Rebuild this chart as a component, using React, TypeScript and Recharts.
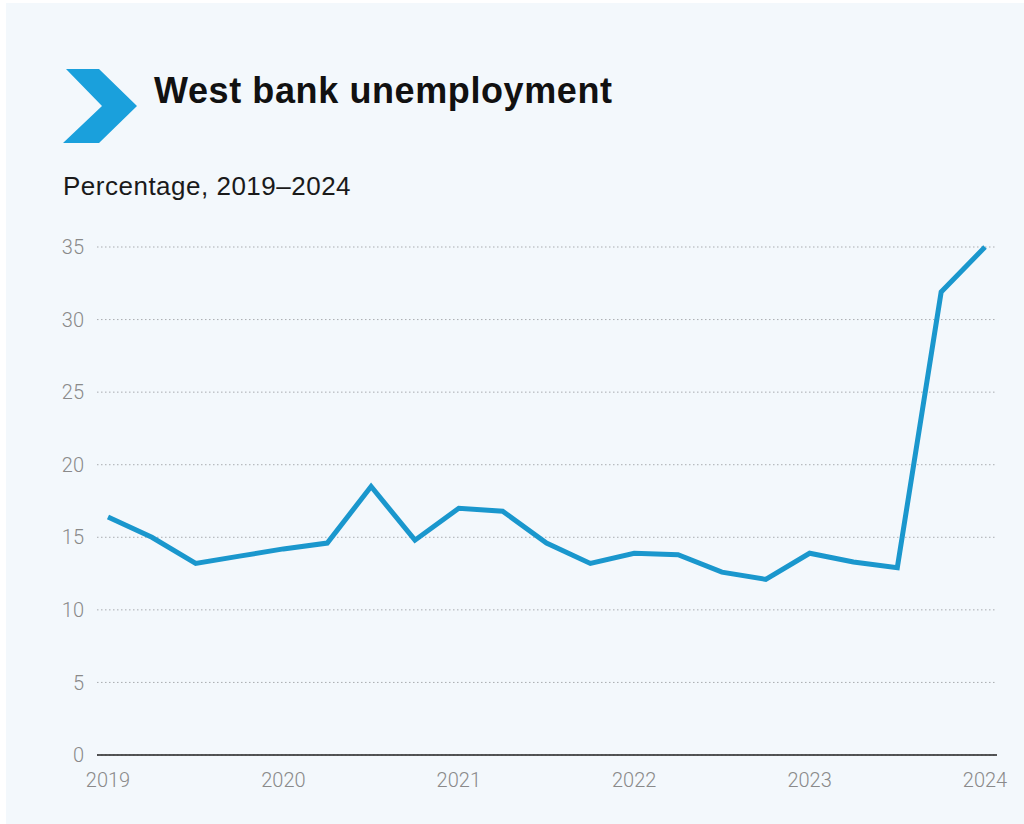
import React from "react";
import { LineChart, Line, XAxis, YAxis, CartesianGrid } from "recharts";

const quarters = [
  "2019 Q1", "2019 Q2", "2019 Q3", "2019 Q4",
  "2020 Q1", "2020 Q2", "2020 Q3", "2020 Q4",
  "2021 Q1", "2021 Q2", "2021 Q3", "2021 Q4",
  "2022 Q1", "2022 Q2", "2022 Q3", "2022 Q4",
  "2023 Q1", "2023 Q2", "2023 Q3", "2023 Q4",
  "2024 Q1",
];
const unemployment = [
  16.4, 15.0, 13.2, 13.7, 14.2, 14.6, 18.5, 14.8, 17.0, 16.8, 14.6,
  13.2, 13.9, 13.8, 12.6, 12.1, 13.9, 13.3, 12.9, 31.9, 35.0,
];
const xTicks = [2019, 2020, 2021, 2022, 2023, 2024];
const yTicks = [0, 5, 10, 15, 20, 25, 30, 35];

const data = quarters.map((q, i) => {
  const [y, qq] = q.split(" ");
  return { t: Number(y) + (Number(qq.slice(1)) - 1) / 4, value: unemployment[i], label: q };
});

const tickFont = { fontFamily: "Roboto, 'DejaVu Sans Condensed', sans-serif", fontSize: 20, fontWeight: 300, fill: "#8a8a8a" };

export default function App() {
  return (
    <div style={{ position: "fixed", left: 0, top: 0, width: 1024, height: 824, background: "#ffffff", overflow: "hidden" }}>
      <div style={{ position: "absolute", left: 6, top: 3, width: 1018, height: 821, background: "#f3f8fc" }} />
      <svg style={{ position: "absolute", left: 0, top: 0 }} width={160} height={160}>
        <polygon points="66,69 99,69 137,106 99,143 63,143 102,106" fill="#1aa0dc" />
      </svg>
      <div
        style={{
          position: "absolute", left: 154, top: 68, fontFamily: "'Liberation Sans', Arial, sans-serif",
          fontWeight: 700, fontSize: 36, letterSpacing: 0.6, color: "#111", lineHeight: "46px", whiteSpace: "nowrap",
        }}
      >
        West bank unemployment
      </div>
      <div
        style={{
          position: "absolute", left: 63, top: 170, fontFamily: "'Liberation Sans', Arial, sans-serif",
          fontSize: 26, letterSpacing: 0.5, color: "#1a1a1a", lineHeight: "32px", whiteSpace: "nowrap",
        }}
      >
        Percentage, 2019–2024
      </div>
      <div style={{ position: "absolute", left: 0, top: 0 }}>
        <LineChart width={1024} height={824} data={data} margin={{ top: 247, right: 27, bottom: 29, left: 57 }}>
          <CartesianGrid vertical={false} stroke="#a9acb0" strokeDasharray="1.5 2.5" />
          <XAxis
            dataKey="t"
            type="number"
            domain={[2019, 2024]}
            ticks={xTicks}
            tickFormatter={(v) => String(v)}
            height={40}
            padding={{ left: 11, right: 12 }}
            axisLine={{ stroke: "#222", strokeWidth: 1.6 }}
            tickLine={false}
            tickSize={0}
            tickMargin={18}
            tick={tickFont}
          />
          <YAxis
            type="number"
            domain={[0, 35]}
            ticks={yTicks}
            width={40}
            axisLine={false}
            tickLine={false}
            tickSize={0}
            tickMargin={13}
            tick={tickFont}
          />
          <Line
            type="linear"
            dataKey="value"
            stroke="#1a97cd"
            strokeWidth={5}
            dot={false}
            activeDot={false}
            isAnimationActive={false}
          />
        </LineChart>
      </div>
    </div>
  );
}
